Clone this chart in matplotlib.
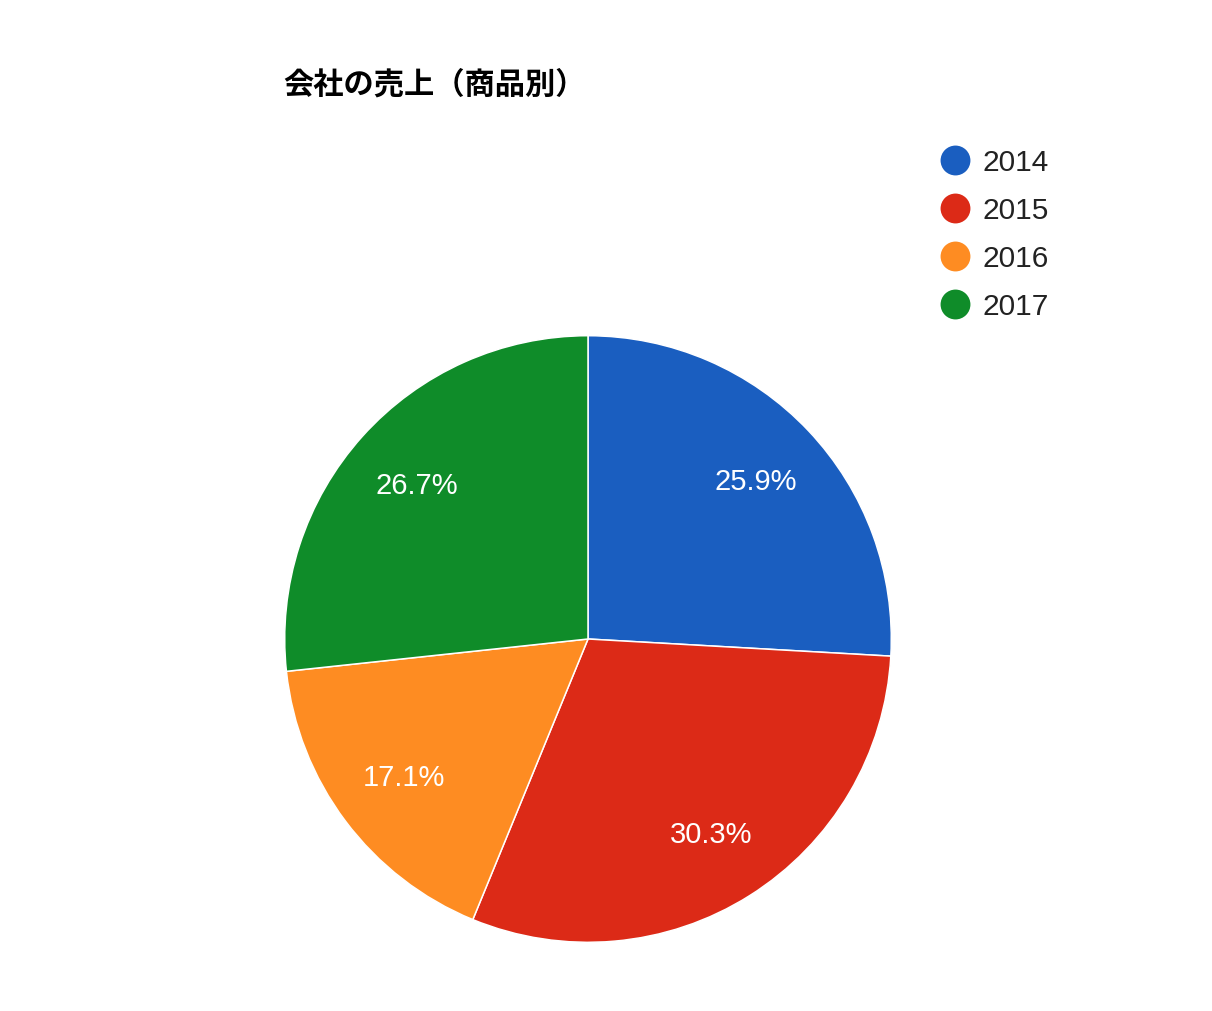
import matplotlib
matplotlib.use("Agg")
import matplotlib.pyplot as plt
from matplotlib.lines import Line2D

# datos del grafico
anios = ["2014", "2015", "2016", "2017"]
ventas = [25.9, 30.3, 17.1, 26.7]
colores = ["#1a5ec0", "#dc2a17", "#fe8c22", "#0f8c29"]
titulo = "会社の売上（商品別）"

W, H = 1212, 1012
fig = plt.figure(figsize=(W / 100, H / 100), dpi=100)

# ejes del pie: centro (588, 640), radio 303 px
cx, cy, r = 588, 640, 303
ax = fig.add_axes([(cx - r) / W, (H - cy - r) / H, 2 * r / W, 2 * r / H])
wedges, textos, autotextos = ax.pie(
    ventas,
    colors=colores,
    startangle=90,
    counterclock=False,
    radius=1,
    autopct="%.1f%%",
    pctdistance=0.76,
    wedgeprops=dict(edgecolor="white", linewidth=1.1),
    textprops=dict(color="white", fontsize=21, family="Liberation Sans"),
)
ax.set_xlim(-0.999, 0.999)
ax.set_ylim(-0.999, 0.999)
ax.set_aspect("equal")
ax.axis("off")

# titulo
fig.text(283 / W, 1 - 85 / H, titulo, fontsize=21.8, fontweight="bold",
         family=["Noto Sans CJK JP", "DejaVu Sans"], va="center", ha="left")

# leyenda a mano
y0 = 161
for i, (anio, col) in enumerate(zip(anios, colores)):
    y = 1 - (y0 + 48 * i) / H
    fig.add_artist(Line2D([955 / W], [y], marker="o", markersize=21.5,
                          color=col, markeredgewidth=0, transform=fig.transFigure))
    fig.text(982 / W, y - 2 / H, anio, fontsize=21.5, family="Liberation Sans",
             color="#222222", va="center", ha="left")

fig.savefig("out.png", dpi=100)
